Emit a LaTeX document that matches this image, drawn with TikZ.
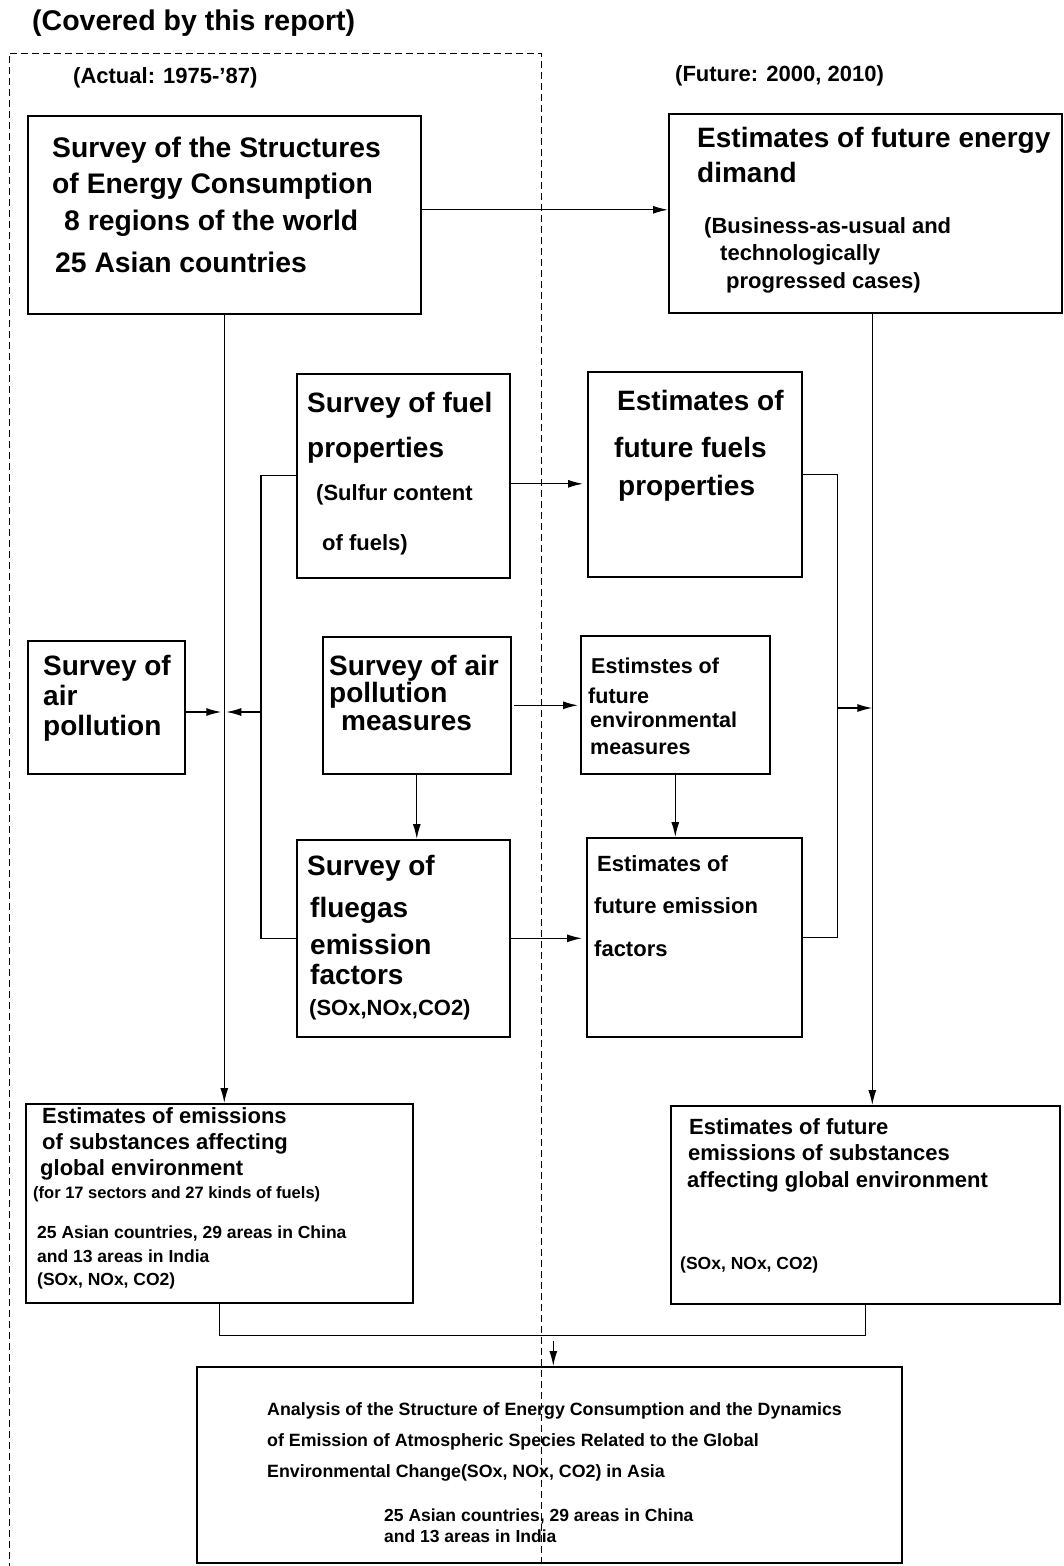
\documentclass[tikz,border=0pt]{standalone}
\usepackage{fontspec}
\setmainfont{Liberation Sans}
\usepackage{tikz}
\usetikzlibrary{arrows.meta,calc,positioning}
\newcommand{\schrift}[2]{\bfseries\fontsize{#1}{#2}\selectfont}

\begin{document}
\begin{tikzpicture}[x=1pt,y=-1pt,
  kasten/.style={draw,line width=1.6pt,inner sep=0pt,anchor=north west},
  txt/.style={anchor=north west,inner sep=0pt,align=left},
  linie/.style={line width=1.3pt},
  pfeil/.style={line width=1.3pt,-{Latex[length=15pt,width=8pt]}}]
\useasboundingbox (0,0) rectangle (1063,1566);
%Kaesten: Name/x/y/Breite/Hoehe (in Pixel vom Bild)
\foreach \n/\x/\y/\w/\hh in {A/27/115/393/198, B/668/113/393/199,
  C/296/373/213/204, D/587/371/214/205, E/27/640/157/133, F/322/636/188/137,
  G/580/635/189/138, H/296/839/213/197, I/586/837/215/199,
  J/25/1103/387/199, K/670/1105/389/198, L/196/1366/705/196}{
  \node[kasten,minimum width=\w pt,minimum height=\hh pt] (\n) at (\x,\y) {};
}
%Ueberschriften
\node[txt,font=\schrift{28.5}{34}] (titel) at (32,10) {(Covered by this report)};
\node[txt,font=\schrift{22}{27}] (ist) at (73,67) {(Actual: 1975-'87)};
\node[txt,font=\schrift{22}{27}] (zukunft) at (675,65) {(Future: 2000, 2010)};
%Texte in den Kaesten
\node[txt,font=\schrift{28.3}{36.5}] (tA) at (52,136.4) {Survey of the Structures\\of Energy Consumption\\\hspace*{12pt}8 regions of the world\\[5.5pt]\hspace*{3pt}25 Asian countries};
\node[txt,font=\schrift{28}{35}] (tB) at (697,126.6) {Estimates of future energy\\dimand};
\node[txt,font=\schrift{22}{27.5}] (tBb) at (704,217) {(Business-as-usual and\\\hspace*{16pt}technologically\\\hspace*{22pt}progressed cases)};
\node[txt,font=\schrift{28}{45}] (tC) at (307,391.6) {Survey of fuel\\properties};
\node[txt,font=\schrift{22}{50}] (tCb) at (316,484) {(Sulfur content\\\hspace*{6pt}of fuels)};
\node[txt,font=\schrift{28}{38}] (tD) at (614,389.6) {\hspace*{3pt}Estimates of\\[9pt]future fuels\\\hspace*{4pt}properties};
\node[txt,font=\schrift{28}{30}] (tE) at (43,654.6) {Survey of\\air\\pollution};
\node[txt,font=\schrift{28}{27.5}] (tF) at (329,654.6) {Survey of air\\pollution\\\hspace*{12pt}measures};
\node[txt,font=\schrift{21.5}{27}] (tG) at (588,657.3) {\hspace*{3pt}Estimstes of\\[3pt]future\\[-3pt]\hspace*{2pt}environmental\\\hspace*{2pt}measures};
\node[txt,font=\schrift{28}{34}] (tH) at (307,854.6) {Survey of\\[8pt]\hspace*{3pt}fluegas\\[3pt]\hspace*{3pt}emission\\[-4pt]\hspace*{3pt}factors};
\node[txt,font=\schrift{22}{27}] (tHb) at (309,999) {(SOx,NOx,CO2)};
\node[txt,font=\schrift{22}{42.5}] (tI) at (594,855) {\hspace*{3pt}Estimates of\\future emission\\factors};
\node[txt,font=\schrift{22}{26}] (tJ) at (40,1107) {\hspace*{2pt}Estimates of emissions\\\hspace*{2pt}of substances affecting\\global environment};
\node[txt,font=\schrift{16.5}{20}] (tJb) at (33,1186) {(for 17 sectors and 27 kinds of fuels)};
\node[txt,font=\schrift{17.5}{23.5}] (tJc) at (37,1226) {25 Asian countries, 29 areas in China\\and 13 areas in India\\(SOx, NOx, CO2)};
\node[txt,font=\schrift{22}{26.5}] (tK) at (687,1118) {\hspace*{2pt}Estimates of future\\\hspace*{1pt}emissions of substances\\affecting global environment};
\node[txt,font=\schrift{17.5}{22}] (tKb) at (680,1257) {(SOx, NOx, CO2)};
\node[txt,font=\schrift{17.8}{31}] (tL) at (267,1402) {Analysis of the Structure of Energy Consumption and the Dynamics\\of Emission of Atmospheric Species Related to the Global\\Environmental Change(SOx, NOx, CO2) in Asia};
\node[txt,font=\schrift{17.5}{21}] (tLb) at (384,1509) {25 Asian countries, 29 areas in China\\and 13 areas in India};
%Hilfspunkte fuer die Querpfeile
\coordinate (hL) at (0,712);
\coordinate (hR) at (0,708);
\coordinate (mL) at (A.south);
\coordinate (mR) at ([xshift=7pt]B.south);
%Verbindungen
\draw[pfeil] ([yshift=5pt]A.east) -- ([yshift=5pt]A.east -| B.west);
\draw[pfeil] (mL) -- (mL |- J.north);
\draw[pfeil] (mR) -- (mR |- K.north);
\draw[linie] (C.west) -- ++(-35,0) coordinate (sL) |- (H.west);
\draw[pfeil] (sL |- hL) -- ([xshift=2pt]mL |- hL);
\draw[pfeil,shorten >=3pt] (E.east |- hL) -- (mL |- hL);
\draw[pfeil,shorten >=4pt] ([yshift=-8pt]C.east) -- ([yshift=-8pt]C.east -| D.west);
\draw[pfeil,shorten >=2pt,shorten <=2pt] (F.east) -- (F.east -| G.west);
\draw[pfeil,shorten >=4pt] (H.east) -- (H.east -| I.west);
\draw[pfeil] (F.south) -- (F.south |- H.north);
\draw[pfeil] (G.south) -- (G.south |- I.north);
\draw[linie] (D.east) -- ++(35,0) coordinate (sR) |- (I.east);
\draw[pfeil] (sR |- hR) -- (mR |- hR);
\draw[linie] (J.south) -- ++(0,32) coordinate (u) -| (K.south);
\draw[pfeil,shorten <=5pt] ([xshift=4pt]L.north |- u) -- ([xshift=4pt]L.north);
%gestrichelter Rahmen (unten offen)
\draw[line width=1pt,dash pattern=on 7pt off 4pt] (9,1570) -- (9,53) -- (541,53) -- (541,1570);
\end{tikzpicture}
\end{document}
